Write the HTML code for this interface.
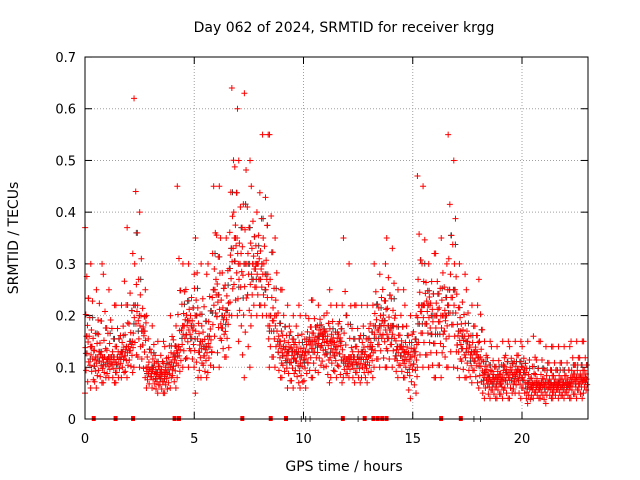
<!DOCTYPE html>
<html><head><meta charset="utf-8"><style>
body{margin:0;background:#fff}
svg{display:block;font-family:"DejaVu Sans","Liberation Sans",sans-serif}
</style></head><body>
<svg id="c" width="640" height="480">
<text x="344" y="32" text-anchor="middle" font-size="14">Day 062 of 2024, SRMTID for receiver krgg</text>
<text x="344" y="471" text-anchor="middle" font-size="14">GPS time / hours</text>
<text transform="translate(18,238) rotate(-90)" text-anchor="middle" font-size="14">SRMTID / TECUs</text>
<g id="grid"></g><g id="marks"></g>
<rect x="85" y="57" width="503" height="362" fill="none" stroke="#000"/>
</svg>
<script>
const times=[0,0.2,0.4,0.6,0.8,1.0,1.2,1.4,1.6,1.8,2.0,2.2,2.4,2.6,2.8,3.0,3.2,3.4,3.6,3.8,4.0,4.2,4.4,4.6,4.8,5.0,5.2,5.4,5.6,5.8,6.0,6.2,6.4,6.6,6.8,7.0,7.2,7.4,7.6,7.8,8.0,8.2,8.4,8.6,8.8,9.0,9.2,9.4,9.6,9.8,10.0,10.2,10.4,10.6,10.8,11.0,11.2,11.4,11.6,11.8,12.0,12.2,12.4,12.6,12.8,13.0,13.2,13.4,13.6,13.8,14.0,14.2,14.4,14.6,14.8,15.0,15.2,15.4,15.6,15.8,16.0,16.2,16.4,16.6,16.8,17.0,17.2,17.4,17.6,17.8,18.0,18.2,18.4,18.6,18.8,19.0,19.2,19.4,19.6,19.8,20.0,20.2,20.4,20.6,20.8,21.0,21.2,21.4,21.6,21.8,22.0,22.2,22.4,22.6,22.8];
const lowVals=[0.05,0.06,0.06,0.07,0.07,0.08,0.07,0.07,0.08,0.08,0.09,0.1,0.1,0.08,0.06,0.06,0.05,0.05,0.05,0.06,0.06,0.08,0.1,0.1,0.1,0.05,0.08,0.08,0.09,0.1,0.1,0.12,0.12,0.2,0.2,0.15,0.08,0.1,0.2,0.2,0.2,0.18,0.1,0.1,0.08,0.08,0.06,0.06,0.07,0.06,0.06,0.08,0.08,0.09,0.1,0.07,0.08,0.08,0.07,0.08,0.08,0.07,0.07,0.08,0.07,0.08,0.1,0.1,0.1,0.1,0.1,0.08,0.08,0.08,0.04,0.05,0.1,0.1,0.1,0.08,0.08,0.08,0.1,0.1,0.1,0.08,0.08,0.08,0.07,0.07,0.06,0.04,0.04,0.04,0.04,0.04,0.04,0.04,0.05,0.04,0.04,0.03,0.04,0.04,0.04,0.03,0.04,0.04,0.04,0.04,0.04,0.04,0.04,0.04,0.05];
const midVals=[0.16,0.14,0.12,0.13,0.12,0.12,0.12,0.12,0.13,0.14,0.15,0.22,0.2,0.17,0.1,0.1,0.09,0.09,0.09,0.11,0.12,0.14,0.18,0.19,0.18,0.2,0.15,0.14,0.16,0.25,0.24,0.2,0.21,0.33,0.35,0.3,0.3,0.3,0.3,0.3,0.3,0.28,0.2,0.2,0.15,0.14,0.13,0.13,0.13,0.12,0.13,0.15,0.15,0.16,0.16,0.15,0.15,0.14,0.15,0.12,0.12,0.12,0.12,0.13,0.12,0.14,0.18,0.18,0.19,0.18,0.18,0.14,0.14,0.13,0.12,0.13,0.22,0.22,0.22,0.2,0.2,0.2,0.2,0.25,0.25,0.17,0.16,0.15,0.13,0.13,0.12,0.09,0.08,0.08,0.08,0.08,0.09,0.09,0.09,0.09,0.09,0.07,0.07,0.07,0.07,0.07,0.07,0.07,0.07,0.07,0.07,0.08,0.08,0.08,0.08];
const highVals=[0.37,0.3,0.25,0.3,0.28,0.25,0.22,0.22,0.22,0.37,0.32,0.62,0.4,0.25,0.2,0.18,0.15,0.15,0.14,0.2,0.18,0.45,0.3,0.3,0.28,0.35,0.3,0.28,0.3,0.45,0.45,0.35,0.35,0.64,0.6,0.5,0.63,0.5,0.45,0.4,0.55,0.55,0.55,0.35,0.25,0.25,0.22,0.2,0.22,0.2,0.2,0.23,0.23,0.22,0.2,0.25,0.22,0.22,0.22,0.35,0.3,0.22,0.22,0.22,0.22,0.22,0.3,0.28,0.3,0.35,0.33,0.25,0.25,0.22,0.2,0.2,0.47,0.45,0.3,0.32,0.32,0.35,0.3,0.55,0.5,0.3,0.28,0.25,0.22,0.22,0.27,0.15,0.15,0.14,0.14,0.15,0.15,0.14,0.15,0.15,0.14,0.15,0.16,0.15,0.15,0.14,0.14,0.14,0.14,0.14,0.14,0.15,0.15,0.15,0.15];
const zeroRed=[0.4,1.4,2.2,4.1,4.3,7.2,8.5,9.2,11.8,12.8,13.2,13.4,13.6,13.8,16.3,17.2];
const zeroBlack=[9.9,10.1,10.3,12.5,17.8,18.1];
const xTicks=[0,5,10,15,20];
const yTicks=[0,0.1,0.2,0.3,0.4,0.5,0.6,0.7];
const X=t=>85+t*21.85, Y=v=>419-v*517.1;
const NS="http://www.w3.org/2000/svg";
const grid=document.getElementById('grid'), marks=document.getElementById('marks');
function mk(tag,attrs,parent){const e=document.createElementNS(NS,tag);for(const k in attrs)e.setAttribute(k,attrs[k]);parent.appendChild(e);return e;}
xTicks.forEach(t=>{
 if(t>0){const g=mk('line',{x1:X(t),x2:X(t),y1:57,y2:419,stroke:'#a0a0a0','stroke-dasharray':'1,2'},grid);
 
 }
 mk('line',{x1:X(t),x2:X(t),y1:419,y2:412,stroke:'#000'},grid);
 mk('line',{x1:X(t),x2:X(t),y1:57,y2:64,stroke:'#000'},grid);
 const l=mk('text',{x:X(t),y:443,'text-anchor':'middle','font-size':13},grid);l.textContent=t;
 
 
});
yTicks.forEach(v=>{
 if(v>0&&v<0.7){const g=mk('line',{x1:85,x2:588,y1:Y(v),y2:Y(v),stroke:'#a0a0a0','stroke-dasharray':'1,2'},grid);
 
 }
 mk('line',{x1:85,x2:92,y1:Y(v),y2:Y(v),stroke:'#000'},grid);
 mk('line',{x1:588,x2:581,y1:Y(v),y2:Y(v),stroke:'#000'},grid);
 const l=mk('text',{x:76,y:Y(v)+5,'text-anchor':'end','font-size':13},grid);l.textContent=v===0?'0':v.toFixed(1);
 
 
});
function plus(x,y,c,name){const p=mk('path',{d:`M${x-3},${y}h6M${x},${y-3}v6`,stroke:c,'stroke-width':1},marks);
 
 }
const bw=[[0.3,0.2],[0.6,0.45],[0.85,0.75]];
times.forEach((t,i)=>{
 const lo=lowVals[i],mi=midVals[i],hi=highVals[i];
 bw.forEach(([a,dx],j)=>{const v=j===2?mi+(hi-mi)*0.35:lo+(mi-lo)*(a+0.4);plus(X(t+dx*0.2),Y(v),'#404040','black-point');});
});
const rw=[0,0.2,0.4,0.55,0.7,0.8,0.9,1,1,1.1,1.2,1.35,1.55,2];
times.forEach((t,i)=>{
 const lo=lowVals[i],mi=midVals[i],hi=highVals[i];
 rw.forEach((w,j)=>{
  const v=w<=1?lo+(mi-lo)*w:mi+(hi-mi)*(w-1);
  plus(X(t+((j*0.618+i*0.29)%1)*0.2),Y(v),'#ff0000','red-point');
 });
});
zeroBlack.forEach(t=>plus(X(t),419,'#404040','black-zero-point'));
zeroRed.forEach(t=>{const r=mk('rect',{x:X(t)-2,y:416,width:4,height:5,fill:'#ff0000'},marks);
 
 });
</script>
</body></html>
